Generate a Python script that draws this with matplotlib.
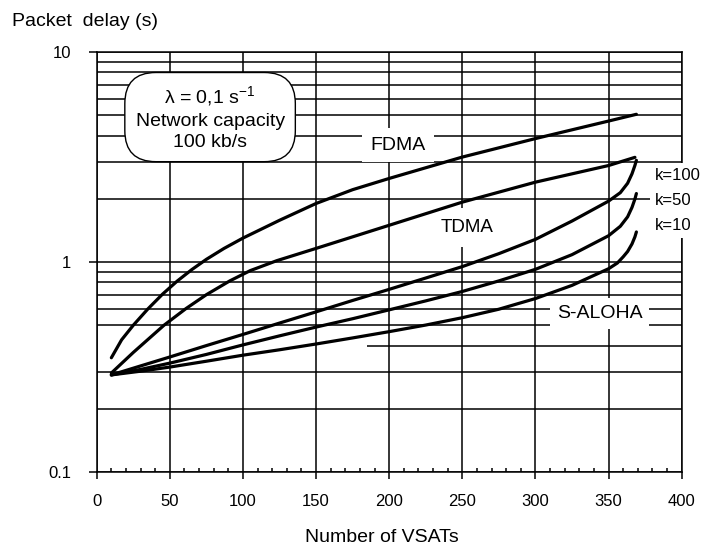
import matplotlib
matplotlib.use("Agg")
import matplotlib.pyplot as plt
from matplotlib.ticker import FixedLocator, NullFormatter

plt.rcParams['font.family'] = ['Liberation Sans', 'DejaVu Sans']
plt.rcParams['mathtext.fontset'] = 'custom'
plt.rcParams['mathtext.rm'] = 'Liberation Sans'

# courbes (nombre de VSAT, délai en s)
fdma_x = [10, 17, 25, 35, 45, 55, 65, 75, 87, 100, 125, 150, 175, 200, 250, 300, 350, 369]
fdma_y = [0.350, 0.426, 0.500, 0.598, 0.703, 0.811, 0.920, 1.03, 1.16, 1.30, 1.58,
          1.90, 2.21, 2.50, 3.16, 3.87, 4.69, 5.05]

tdma_x = [10, 25, 46, 61, 75, 91, 105, 123, 150, 200, 250, 300, 350, 368]
tdma_y = [0.296, 0.371, 0.500, 0.600, 0.699, 0.813, 0.910, 1.014, 1.161, 1.496,
          1.928, 2.40, 2.88, 3.15]

k100_x = [10, 30, 50, 75, 100, 125, 150, 175, 200, 225, 250, 275, 300, 325, 350,
          358, 363, 366, 368, 369]
k100_y = [0.290, 0.320, 0.353, 0.400, 0.452, 0.512, 0.579, 0.656, 0.741, 0.839,
          0.951, 1.096, 1.282, 1.567, 1.950, 2.138, 2.371, 2.630, 2.884, 3.048]

k50_x = [10, 30, 50, 75, 100, 125, 150, 175, 200, 225, 250, 275, 300, 325, 350,
         358, 363, 366, 368, 369]
k50_y = [0.290, 0.308, 0.330, 0.363, 0.403, 0.445, 0.490, 0.537, 0.592, 0.653,
         0.724, 0.813, 0.923, 1.084, 1.334, 1.479, 1.641, 1.820, 1.995, 2.118]

k10_x = [10, 30, 50, 75, 100, 125, 150, 175, 200, 225, 250, 275, 300, 325, 350,
         356, 360, 363, 366, 368, 369]
k10_y = [0.290, 0.302, 0.316, 0.337, 0.360, 0.382, 0.407, 0.435, 0.466, 0.501,
         0.543, 0.596, 0.670, 0.774, 0.929, 0.989, 1.059, 1.122, 1.219, 1.318, 1.390]

x_ticks = [0, 50, 100, 150, 200, 250, 300, 350, 400]
x_ticklabels = ['0', '50', '100', '150', '200', '250', '300', '350', '400']
y_ticks = [0.1, 1, 10]
y_ticklabels = ['0.1', '1', '10']
y_grid = [0.2, 0.3, 0.5, 0.6, 0.7, 0.8, 0.9, 2, 3, 4, 5, 6, 7, 8, 9]

fig = plt.figure(figsize=(7.01, 5.46), dpi=100)
ax = fig.add_axes([0.138, 0.1355, 0.8345, 0.7693])
ax.set_yscale('log')
ax.set_xlim(0, 400)
ax.set_ylim(0.1, 10)

lw_grid = 1.1
ax.set_xticks(x_ticks)
ax.set_xticklabels(x_ticklabels)
ax.xaxis.set_minor_locator(FixedLocator(range(0, 401, 10)))
ax.set_yticks(y_ticks)
ax.set_yticklabels(y_ticklabels)
ax.yaxis.set_minor_locator(FixedLocator(y_grid))
ax.yaxis.set_minor_formatter(NullFormatter())

ax.tick_params(axis='x', which='major', direction='out', length=5, width=lw_grid,
               labelsize=12, pad=11)
ax.tick_params(axis='x', which='minor', direction='in', length=3, width=lw_grid)
ax.tick_params(axis='y', which='major', direction='out', length=5.5, width=lw_grid,
               labelsize=12, pad=13)
ax.tick_params(axis='y', which='minor', length=0)

ax.xaxis.grid(True, which='major', color='black', lw=lw_grid)
ax.yaxis.grid(True, which='both', color='black', lw=lw_grid)
ax.hlines(0.4, 185, 400, color='black', lw=lw_grid, zorder=0.5)
ax.set_axisbelow(True)
for s in ax.spines.values():
    s.set_linewidth(lw_grid)

for xs, ys in [(fdma_x, fdma_y), (tdma_x, tdma_y), (k100_x, k100_y),
               (k50_x, k50_y), (k10_x, k10_y)]:
    ax.plot(xs, ys, color='black', lw=2.3, solid_capstyle='round',
            solid_joinstyle='round', zorder=3)

white = dict(facecolor='white', edgecolor='none')
ax.text(206, 3.6, 'FDMA', fontsize=14, ha='center', va='center', zorder=2.6,
        bbox=dict(boxstyle='square,pad=0.45', **white))
ax.text(253, 1.456, 'TDMA', fontsize=13.5, ha='center', va='center', zorder=2.6,
        bbox=dict(boxstyle='square,pad=0.6', **white))
ax.text(344, 0.57, 'S-ALOHA', fontsize=14, ha='center', va='center', zorder=2.6,
        bbox=dict(boxstyle='square,pad=0.35', **white))

for lab, ky in [('k=100', 2.59), ('k=50', 1.97), ('k=10', 1.50)]:
    ax.text(381.7, ky, lab, fontsize=12, ha='left', va='center', zorder=5,
            clip_on=False, bbox=dict(boxstyle='square,pad=0.3', **white))

ax.text(77.5, 4.86, 'λ = 0,1 s$^{\\mathrm{-1}}$\nNetwork capacity\n100 kb/s',
        fontsize=14, ha='center', va='center', multialignment='center',
        linespacing=1.3, zorder=5,
        bbox=dict(boxstyle='round,pad=0.55,rounding_size=1.6',
                  facecolor='white', edgecolor='black', lw=1.0))

fig.text(12 / 701, 1 - 22 / 546, 'Packet  delay (s)', fontsize=14,
         ha='left', va='center')
fig.text(382 / 701, 1 - 537 / 546, 'Number of VSATs', fontsize=14,
         ha='center', va='center')

fig.savefig('out.png', dpi=100)
